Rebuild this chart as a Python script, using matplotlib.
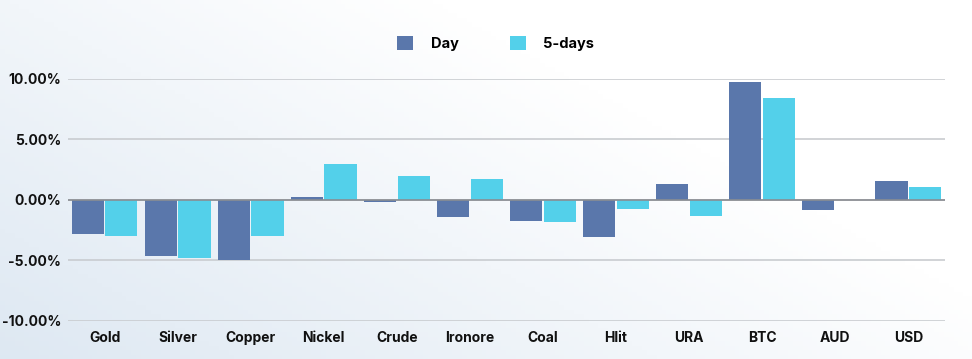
import numpy as np
import matplotlib
matplotlib.use("Agg")
import matplotlib.pyplot as plt
from matplotlib.ticker import FuncFormatter

# data (percent change)
categories = ["Gold", "Silver", "Copper", "Nickel", "Crude", "Ironore",
              "Coal", "Hlit", "URA", "BTC", "AUD", "USD"]
day = [-2.85, -4.65, -5.0, 0.22, -0.19, -1.38, -1.74, -3.06, 1.35, 9.72, -0.8, 1.6]
five_days = [-3.0, -4.82, -2.95, 2.97, 2.01, 1.76, -1.79, -0.72, -1.35, 8.43, 0.0, 1.1]

plt.rcParams['font.family'] = ['Inter', 'DejaVu Sans']

fig = plt.figure(figsize=(9.72, 3.59), dpi=100)

# soft background gradient (bluish lower-left -> white upper-right)
bg = fig.add_axes([0, 0, 1, 1], zorder=-10)
gx, gy = np.meshgrid(np.linspace(0, 1, 200), np.linspace(0, 1, 80))
grad = np.clip(1 - (gx * 0.9 + gy * 0.6), 0, 1)
base = np.array([1.0, 1.0, 1.0])
tint = np.array([0.87, 0.91, 0.95])
img = base[None, None, :] * (1 - grad[..., None]) + tint[None, None, :] * grad[..., None]
bg.imshow(img, aspect='auto', extent=[0, 1, 0, 1], origin='lower')
bg.axis('off')

ax = fig.add_axes([0.070, 0.106, 0.902, 0.674])
ax.patch.set_alpha(0)

x = np.arange(len(categories))
w = 0.44
ax.bar(x - w / 2 - 0.01, day, width=w, color="#5a77ab", label="Day", zorder=3)
ax.bar(x + w / 2 + 0.01, five_days, width=w, color="#53d0ea", label="5-days", zorder=3)

ax.set_xlim(-0.5, len(categories) - 0.5)
ax.set_ylim(-10, 10)
ax.set_yticks([-10, -5, 0, 5, 10])
ax.yaxis.set_major_formatter(FuncFormatter(lambda v, p: f"{v:.2f}%"))
ax.grid(axis='y', color="#c9ccd0", linewidth=1.2, zorder=0)
ax.axhline(0, color="#8a8d92", linewidth=1.2, zorder=4)

ax.set_xticks(x)
ax.set_xticklabels(categories)
for lab in ax.get_xticklabels() + ax.get_yticklabels():
    lab.set_fontweight('bold')
    lab.set_fontsize(10)
    lab.set_color("#111111")
ax.tick_params(length=0, pad=7)
ax.tick_params(axis='y', pad=5)
for s in ax.spines.values():
    s.set_visible(False)

fig.legend(loc='center', bbox_to_anchor=(0.51, 0.88), ncol=2, frameon=False,
           handlelength=1.1, handleheight=1.1, columnspacing=3.5, handletextpad=1.2,
           prop={'weight': 'bold', 'size': 10.5})

fig.savefig("out.png", dpi=100)
